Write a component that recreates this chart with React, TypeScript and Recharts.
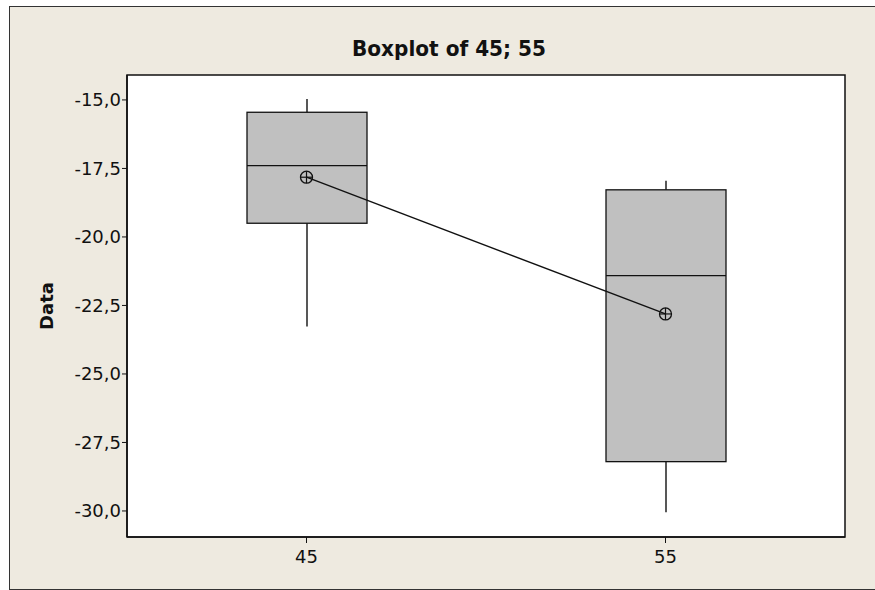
import React from 'react';
import {
  ComposedChart,
  Bar,
  Line,
  XAxis,
  YAxis,
  CartesianGrid,
  ReferenceArea
} from 'recharts';

// Boxplot summary
const groups = ['45', '55'];
const whiskerLow = [-23.27, -30.05];
const q1 = [-19.5, -28.2];
const median = [-17.4, -21.41];
const q3 = [-15.45, -18.28];
const whiskerHigh = [-14.97, -17.95];
const means = [-17.82, -22.81];

const yTicks = [-30, -27.5, -25, -22.5, -20, -17.5, -15];
const yDomain = [-30.95, -14.09];

const data = groups.map((name, i) => ({
  name,
  low: whiskerLow[i],
  q1: q1[i],
  median: median[i],
  q3: q3[i],
  high: whiskerHigh[i],
  mean: means[i]
}));

const fmt = (v: number) => v.toFixed(1).replace('.', ',');

const BoxShape = (props: any) => {
  const { x, y, width, height, payload } = props;
  const top = Math.min(y, y + height);
  const h = Math.abs(height);
  const span = payload.high - payload.low;
  const py = (v: number) => top + ((payload.high - v) / span) * h;
  const cx = x + width / 2;
  return (
    <g>
      <line x1={cx} x2={cx} y1={py(payload.high)} y2={py(payload.q3)} stroke="#111" strokeWidth={1.4} />
      <line x1={cx} x2={cx} y1={py(payload.q1)} y2={py(payload.low)} stroke="#111" strokeWidth={1.4} />
      <rect
        x={x}
        y={py(payload.q3)}
        width={width}
        height={py(payload.q1) - py(payload.q3)}
        fill="#C0C0C0"
        stroke="#111"
        strokeWidth={1.3}
      />
      <line x1={x} x2={x + width} y1={py(payload.median)} y2={py(payload.median)} stroke="#111" strokeWidth={1.3} />
    </g>
  );
};

const MeanDot = (props: any) => {
  const { cx, cy } = props;
  if (cx == null || cy == null) return null;
  const r = 6;
  return (
    <g>
      <circle cx={cx} cy={cy} r={r} fill="none" stroke="#111" strokeWidth={1.3} />
      <line x1={cx - r} x2={cx + r} y1={cy} y2={cy} stroke="#111" strokeWidth={1.2} />
      <line x1={cx} x2={cx} y1={cy - r} y2={cy + r} stroke="#111" strokeWidth={1.2} />
    </g>
  );
};

const tickStyle = { fill: '#111', fontSize: 18, fontFamily: 'DejaVu Sans' };

export default function App() {
  return (
    <div style={{ position: 'absolute', left: 0, top: 0, width: 875, height: 590, background: '#fff', overflow: 'hidden' }}>
      <div
        style={{
          position: 'absolute',
          left: 9,
          top: 6,
          width: 880,
          height: 582,
          background: '#EEEAE0',
          border: '1px solid #333'
        }}
      />
      <div style={{ position: 'absolute', left: 0, top: 0 }}>
        <ComposedChart
          width={875}
          height={590}
          data={data}
          margin={{ top: 75, right: 30, bottom: 0, left: 0 }}
        >
          <CartesianGrid fill="#fff" horizontal={false} vertical={false} />
          <XAxis
            dataKey="name"
            type="category"
            height={53}
            tick={tickStyle}
            tickSize={6}
            tickMargin={7}
            axisLine={{ stroke: '#111', strokeWidth: 1.5 }}
            tickLine={{ stroke: '#111' }}
          />
          <YAxis
            type="number"
            domain={yDomain}
            ticks={yTicks}
            tickFormatter={fmt}
            width={127}
            tick={tickStyle}
            tickSize={5}
            tickMargin={1}
            allowDataOverflow
            axisLine={{ stroke: '#111', strokeWidth: 1.5 }}
            tickLine={{ stroke: '#111' }}
          />
          <ReferenceArea
            y1={yDomain[0]}
            y2={yDomain[1]}
            fill="none"
            stroke="#111"
            strokeWidth={1.5}
            ifOverflow="visible"
          />
          <Bar
            dataKey={(d: any) => [d.low, d.high]}
            barSize={120}
            shape={BoxShape}
            isAnimationActive={false}
          />
          <Line
            dataKey="mean"
            stroke="#111"
            strokeWidth={1.4}
            dot={MeanDot}
            activeDot={false}
            isAnimationActive={false}
          />
        </ComposedChart>
      </div>
      <svg width={875} height={590} style={{ position: 'absolute', left: 0, top: 0, pointerEvents: 'none' }}>
        <text
          x={449}
          y={56}
          textAnchor="middle"
          fontFamily="DejaVu Sans"
          fontWeight="bold"
          fontSize={21}
          textLength={194}
          lengthAdjust="spacingAndGlyphs"
          fill="#111"
        >
          Boxplot of 45; 55
        </text>
        <text
          x={0}
          y={0}
          transform="translate(53, 306) rotate(-90)"
          textAnchor="middle"
          fontFamily="DejaVu Sans"
          fontWeight="bold"
          fontSize={18}
          fill="#111"
        >
          Data
        </text>
      </svg>
    </div>
  );
}
